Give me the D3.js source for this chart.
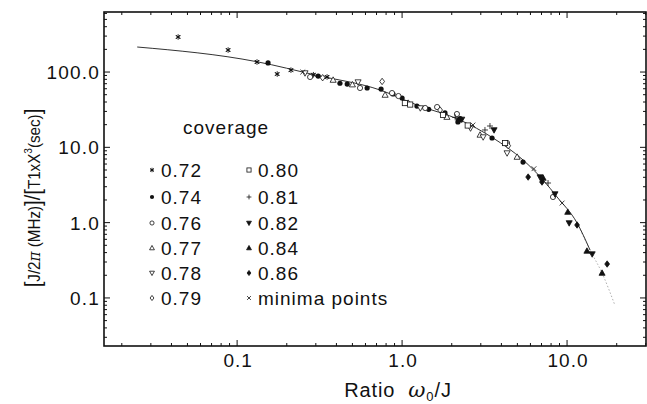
<!DOCTYPE html>
<html><head><meta charset="utf-8">
<script src="https://cdn.jsdelivr.net/npm/d3@7"></script>
<style>
html,body{margin:0;padding:0;background:#fff;}
svg text{font-family:"Liberation Sans",Arial,Helvetica,sans-serif;fill:#111;}
</style></head>
<body>
<svg id="c" width="647" height="404"></svg>
<script>
// ---- data ----
const xTickValues = [0.1, 1, 10];
const xTickLabels = ["0.1", "1.0", "10.0"];
const yTickValues = [0.1, 1, 10, 100];
const yTickLabels = ["0.1", "1.0", "10.0", "100.0"];

const curveX = [0.0248, 0.132, 0.3, 0.736, 1.23, 2.25, 3.56, 5.41, 7.16, 8.7, 11.5, 13.8, 16.3, 19.5];
const curveY = [215, 137, 91, 57.7, 36.5, 23, 13.3, 6.8, 3.68, 2.19, 0.99, 0.43, 0.214, 0.08];

const cov072 = [[0.0439,292],[0.0882,196],[0.132,136],[0.175,94],[0.212,106],[0.351,86],[0.29,92]];
const cov074 = [[0.154,132],[0.31,88.5],[0.465,69.3],[0.614,61.4],[0.746,59.4],[0.881,51.1],[1.0,45.2],[1.23,35.3],[1.82,28.6],[2.18,21.7],[2.25,24],[2.2,22.8],[3.51,13.3],[5.41,6.38],[0.42,71],[1.45,32]];
const cov076 = [[0.277,85.9],[0.556,61.4],[0.869,52.6],[1.38,33.3],[1.63,34.3],[2.15,27.7],[4.33,11.4],[8.22,2.19],[0.95,48]];
const cov077 = [[0.382,78.3],[0.789,49.5],[1.09,38.7],[1.87,25.2],[2.97,14.6],[4.98,7.43],[0.5,68]];
const cov078 = [[0.258,97],[0.541,73.6],[1.29,33.3],[3.1,13.7],[4.33,8.4],[2.6,18]];
const cov079 = [[0.757,75],[1.70,31.3],[4.4,10.5],[0.33,84]];
const cov080 = [[1.04,38.7],[1.12,37],[1.77,26.9],[4.21,11.4],[2.5,19.5]];
const cov081 = [[3.18,17],[3.41,19.2],[7.67,3.36],[2.1,25]];
const cov082 = [[3.61,17.0],[6.86,4.03],[8.45,2.40],[10.3,0.99],[14.2,0.383],[2.3,23.5]];
const cov084 = [[7.16,3.91],[10.1,1.38],[13.2,0.42],[16.3,0.214]];
const cov086 = [[5.81,4.03],[7.05,3.46],[11.5,0.93],[17.5,0.282]];
const minimaPts = [[9.33,1.82],[2.69,19.8],[6.3,5.2],[0.25,100]];

const seriesNames = ["0.72","0.74","0.76","0.77","0.78","0.79","0.80","0.81","0.82","0.84","0.86","minima points"];
const seriesData = [cov072,cov074,cov076,cov077,cov078,cov079,cov080,cov081,cov082,cov084,cov086,minimaPts];
const seriesSymbols = ["asterisk","dot","circle","triUp","triDown","diamond","square","plus","triDownF","triUpF","diamondF","times"];

// ---- layout ----
const L = 104, R = 646, T = 12, B = 346;
const svg = d3.select("#c");
const x = d3.scaleLog().domain([0.0156, 30.1]).range([L, R]);
const y = d3.scaleLog().domain([0.023, 627]).range([B, T]);

function drawSymbol(g, type, cx, cy, s) {
  s = s || 1;
  const k = g.append("g").attr("transform", `translate(${cx},${cy})`);
  const blk = "#111";
  const r = 2.6 * s;
  switch (type) {
    case "dot": k.append("circle").attr("r", r).attr("fill", blk); break;
    case "circle": k.append("circle").attr("r", r).attr("fill", "#fff").attr("stroke", blk).attr("stroke-width", 0.8); break;
    case "square": k.append("rect").attr("x", -r).attr("y", -r).attr("width", 2*r).attr("height", 2*r).attr("fill", "#fff").attr("stroke", blk).attr("stroke-width", 0.8); break;
    case "triUp": case "triUpF": case "triDown": case "triDownF": {
      const h = 3.2 * s, up = type.startsWith("triUp") ? 1 : -1;
      const p = `M0,${-h*up}L${h*0.95},${h*0.7*up}L${-h*0.95},${h*0.7*up}Z`;
      const f = type.endsWith("F");
      k.append("path").attr("d", p).attr("fill", f ? blk : "#fff").attr("stroke", blk).attr("stroke-width", 0.8);
      break;
    }
    case "diamond": case "diamondF": {
      const h = 3.2 * s, w = 2.4 * s;
      const f = type === "diamondF";
      k.append("path").attr("d", `M0,${-h}L${w},0L0,${h}L${-w},0Z`).attr("fill", f ? blk : "#fff").attr("stroke", blk).attr("stroke-width", 0.8);
      break;
    }
    case "asterisk": {
      const h = 2.8 * s;
      let d = `M0,${-h}V${h}`;
      [30, 150].forEach(a => { const rr = a * Math.PI / 180; d += `M${-h*Math.cos(rr)},${-h*Math.sin(rr)}L${h*Math.cos(rr)},${h*Math.sin(rr)}`; });
      d += `M${-h*0.7},${-h*0.7}L${h*0.7},${h*0.7}M${h*0.7},${-h*0.7}L${-h*0.7},${h*0.7}`;
      k.append("path").attr("d", d).attr("stroke", blk).attr("stroke-width", 0.9).attr("fill", "none");
      break;
    }
    case "plus": {
      const h = 3 * s;
      k.append("path").attr("d", `M${-h},0H${h}M0,${-h}V${h}`).attr("stroke", blk).attr("stroke-width", 0.8).attr("fill", "none");
      break;
    }
    case "times": {
      const h = 2.4 * s;
      k.append("path").attr("d", `M${-h},${-h}L${h},${h}M${h},${-h}L${-h},${h}`).attr("stroke", blk).attr("stroke-width", 0.8).attr("fill", "none");
      break;
    }
  }
}

// curve
const curvePts = curveX.map((v, i) => [x(v), y(curveY[i])]);
const line = d3.line().curve(d3.curveMonotoneX);
const splitIdx = 11;
svg.append("path").attr("d", line(curvePts.slice(splitIdx - 1))).attr("fill", "none").attr("stroke", "#999").attr("stroke-width", 0.8).attr("stroke-dasharray", "1.5,2");
svg.append("path").attr("d", line(curvePts.slice(0, splitIdx + 1))).attr("fill", "none").attr("stroke", "#333").attr("stroke-width", 1);

// points
const pg = svg.append("g");
seriesData.forEach((arr, i) => {
  arr.forEach(d => drawSymbol(pg, seriesSymbols[i], x(d[0]), y(d[1]), 1));
});

// axes (ticks inward on all four sides)
const xAll = [], yAll = [];
for (let e = -2; e <= 1; e++) for (let m = 1; m <= 9; m++) { const v = m * Math.pow(10, e); if (v >= 0.0156 && v <= 30.1) xAll.push(v); }
for (let e = -2; e <= 2; e++) for (let m = 1; m <= 9; m++) { const v = m * Math.pow(10, e); if (v >= 0.023 && v <= 627) yAll.push(v); }
const isMajor = v => Math.abs(Math.log10(v) - Math.round(Math.log10(v))) < 1e-9;

const ax = svg.append("g").attr("stroke", "#111");
xAll.forEach(v => {
  const len = isMajor(v) ? 6 : 3;
  ax.append("line").attr("x1", x(v)).attr("x2", x(v)).attr("y1", B).attr("y2", B - len).attr("stroke-width", 1);
  ax.append("line").attr("x1", x(v)).attr("x2", x(v)).attr("y1", T).attr("y2", T + len).attr("stroke-width", 1);
});
yAll.forEach(v => {
  const len = isMajor(v) ? 6 : 3;
  ax.append("line").attr("y1", y(v)).attr("y2", y(v)).attr("x1", L).attr("x2", L + len).attr("stroke-width", 1);
  ax.append("line").attr("y1", y(v)).attr("y2", y(v)).attr("x1", R).attr("x2", R - len).attr("stroke-width", 1);
});
svg.append("rect").attr("x", L).attr("y", T).attr("width", R - L).attr("height", B - T)
  .attr("fill", "none").attr("stroke", "#111").attr("stroke-width", 1.6);

// tick labels
xTickValues.forEach((v, i) => {
  svg.append("text").attr("x", x(v) + 1).attr("y", 367).attr("text-anchor", "middle")
    .attr("font-size", 19).attr("letter-spacing", 1).text(xTickLabels[i]);
});
yTickValues.forEach((v, i) => {
  svg.append("text").attr("x", 100).attr("y", y(v) + 7).attr("text-anchor", "end")
    .attr("font-size", 19).attr("letter-spacing", 1.2).text(yTickLabels[i]);
});

// axis titles
const xt = svg.append("text").attr("x", 398).attr("y", 397).attr("text-anchor", "middle").attr("font-size", 20).attr("letter-spacing", 0.9);
xt.append("tspan").text("Ratio\u00a0\u00a0");
xt.append("tspan").attr("font-style", "italic").attr("font-family", "DejaVu Serif, serif").attr("font-size", 21).text("ω");
xt.append("tspan").attr("font-size", 13).attr("dy", 4).text("0");
xt.append("tspan").attr("dy", -4).text("/J");

const yt = svg.append("text").attr("transform", "translate(40,198) rotate(-90) scale(0.92,1)").attr("text-anchor", "middle").attr("font-size", 16.5);
yt.append("tspan").attr("font-size", 22).text("[");
yt.append("tspan").text("J/2");
yt.append("tspan").attr("font-style", "italic").attr("font-family", "DejaVu Serif, serif").text("π");
yt.append("tspan").text(" (MHz)");
yt.append("tspan").attr("font-size", 22).text("]/[");
yt.append("tspan").text("T1xX");
yt.append("tspan").attr("font-size", 11).attr("dy", -8).text("3");
yt.append("tspan").attr("dy", 8).text("(sec)");
yt.append("tspan").attr("font-size", 22).text("]");

// legend
svg.append("text").attr("x", 183).attr("y", 134).attr("font-size", 19).attr("letter-spacing", 1).text("coverage");
const rowY = [170, 197, 223, 248, 273, 298];
seriesNames.forEach((name, i) => {
  const col = i < 6 ? 0 : 1, row = i % 6;
  const sx = col === 0 ? 152 : 249, tx = col === 0 ? 161 : 258;
  drawSymbol(svg, seriesSymbols[i], sx, rowY[row], 0.8);
  svg.append("text").attr("x", tx).attr("y", rowY[row] + 7).attr("font-size", 19).attr("letter-spacing", 1).text(name);
});
</script>
</body></html>
